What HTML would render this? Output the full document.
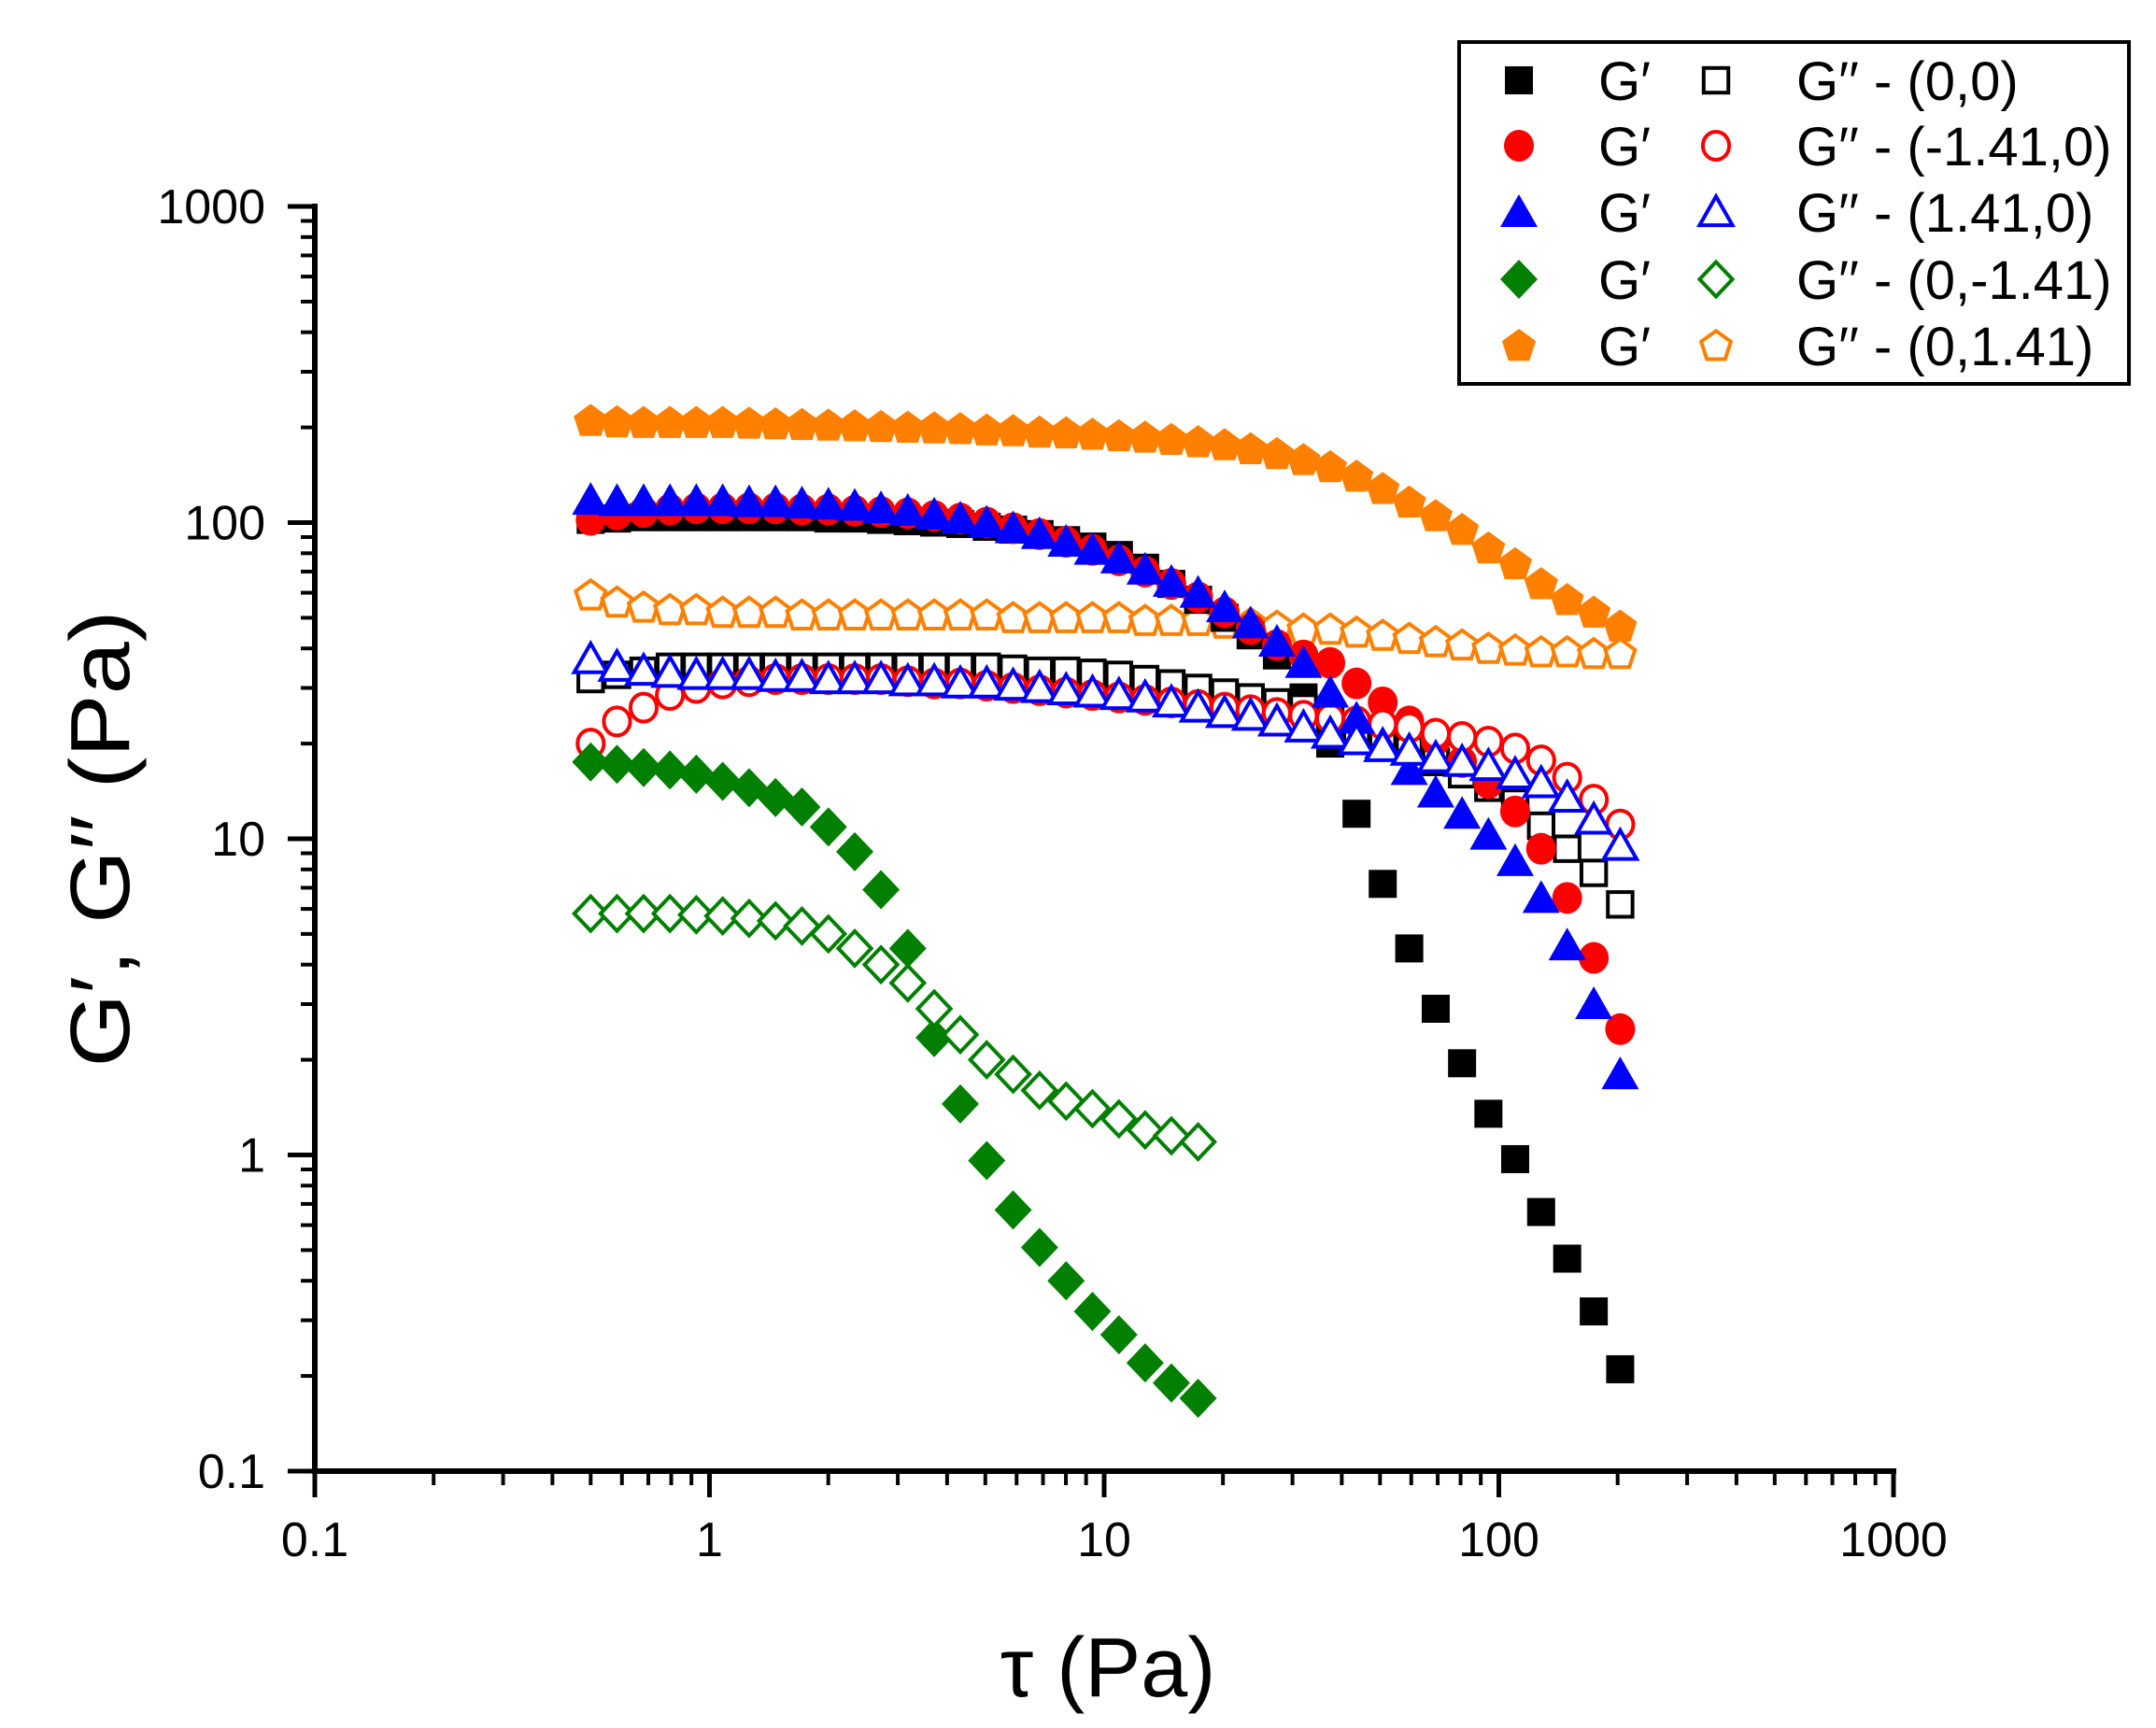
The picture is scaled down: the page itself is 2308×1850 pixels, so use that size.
<!DOCTYPE html>
<html><head><meta charset="utf-8"><style>
html,body{margin:0;padding:0;background:#fff;}
svg{display:block;font-family:"Liberation Sans",Arial,sans-serif;}
</style></head><body>
<svg id="chart" width="2308" height="1850" viewBox="0 0 2308 1850" xmlns="http://www.w3.org/2000/svg">
<g id="axes"></g>
<g id="series"></g>
<text x="1186" y="1816" font-size="90" text-anchor="middle">τ (Pa)</text>
<text transform="translate(138,898) rotate(-90)" font-size="90" text-anchor="middle" textLength="489" lengthAdjust="spacingAndGlyphs">G′, G′′ (Pa)</text>
<g>
<rect x="1562" y="45" width="717" height="366" fill="#fff" stroke="#000" stroke-width="4"/>
<g id="legend-items"></g>
</g>
</svg>
<script>
const stress=[0.500,0.583,0.681,0.794,0.926,1.080,1.260,1.470,1.715,2.001,2.334,2.72,3.18,3.71,4.32,5.04,5.88,6.86,8.01,9.34,10.9,12.7,14.8,17.3,20.2,23.5,27.4,32.0,37.4,43.6,50.8,59.3,69.2,80.7,94.1,110,128,149,174,203];
const g1_00=[102,103,104,104,104,104,104,104,104,103,103,102,101,100,99,97,95,92,88,84,79,72,64,57,50,44,38,28,20,12,7.2,4.5,2.9,1.95,1.35,0.97,0.66,0.47,0.32,0.21];
const g2_00=[32,33,34,35,35,35,35,35,35,35,35,35,35,35,35,35,34.5,34,34,33.5,33,32,31,30,29,28,27,26,24,22,20.5,19,17.5,16,14.5,13,11,9.3,7.8,6.2];
const g1_m141=[102,106,108,110,111,111,111,111,110,110,109,108,107,105,103,100,96,92,87,82,76,70,64,58,52,46,41,38,36,31,27,23.5,20.5,17.5,15,12.2,9.3,6.5,4.2,2.5];
const g2_m141=[20,23.5,26,28.5,30,31,31.5,32,32,32,32,32,31.5,31,31,30.5,30,29.5,29,28.5,28,27.5,27,26.5,26,25.5,25,24.5,24,23.5,23,22.5,21.5,21,20.3,19.3,17.7,15.6,13.3,11.1];
const g1_p141=[118,117,117,117,117,117,116,116,115,114,113,111,109,106,103,100,96,92,87,82,77,71,65,60,54,48,42,36,29,24,20,16.5,14,12,10.3,8.5,6.5,4.6,3.0,1.8];
const g2_p141=[37,35,34,33.5,33,33,33,32.5,32.5,32,32,32,31.5,31.5,31,31,30.5,30,29.5,29,28.5,28,27,26,25,24.5,23.5,22.5,21.5,20.5,19.5,19,18,17.5,17,16,15,13.5,11.5,9.5];
const g1_0m=[17.5,17.2,16.8,16.5,16,15.2,14.5,13.5,12.6,10.9,9.1,6.9,4.5,2.35,1.45,0.96,0.67,0.51,0.40,0.32,0.27,0.22,0.19,0.17];
const g2_0m=[5.8,5.8,5.8,5.8,5.75,5.7,5.6,5.5,5.3,5.0,4.5,4.0,3.5,2.9,2.4,2.0,1.8,1.6,1.48,1.4,1.3,1.2,1.15,1.1];
const g1_0p=[210,208,207,207,207,207,206,205,204,203,202,201,200,199,198,196,195,193,192,190,188,186,183,180,176,171,165,158,150,140,128,116,105,95,83,74,64,57,52,47];
const g2_0p=[59,56,54,53,53,52,52,52,51,51,51,51,51,51,51,51,50,50,50,50,50,49,49,49,48,48,47,46,46,45,44,43,42,41,40,39.5,39,39,38.5,38.5];
const xTicks=["0.1","1","10","100","1000"];
const yTicks=["0.1","1","10","100","1000"];

const NS="http://www.w3.org/2000/svg";
const X=v=>337+422.5*(Math.log10(v)+1);
const Y=v=>221+338.5*(3-Math.log10(v));
function mk(tag,attrs,parent){const e=document.createElementNS(NS,tag);for(const k in attrs)e.setAttribute(k,attrs[k]);parent.appendChild(e);return e;}
const axes=document.getElementById('axes');
let l=mk('line',{x1:337,y1:218,x2:337,y2:1578,stroke:'#000','stroke-width':6},axes);


l=mk('line',{x1:334,y1:1575,x2:2030,y2:1575,stroke:'#000','stroke-width':6},axes);


for(let d=0;d<4;d++){for(let m=2;m<=9;m++){const v=Math.pow(10,d-1)*m;
 let t=mk('line',{x1:X(v),x2:X(v),y1:1575,y2:1590,stroke:'#000','stroke-width':4},axes);
 
 
 t=mk('line',{x1:322,x2:337,y1:Y(v),y2:Y(v),stroke:'#000','stroke-width':4},axes);
 
 }}
xTicks.forEach(s=>{const v=parseFloat(s);
 let t=mk('line',{x1:X(v),x2:X(v),y1:1575,y2:1603,stroke:'#000','stroke-width':5},axes);
 
 
 const tx=mk('text',{x:X(v),y:1666,'font-size':52,'text-anchor':'middle'},axes);tx.textContent=s;
 
 });
yTicks.forEach(s=>{const v=parseFloat(s);
 let t=mk('line',{x1:308,x2:337,y1:Y(v),y2:Y(v),stroke:'#000','stroke-width':5},axes);
 
 
 const tx=mk('text',{x:284,y:Y(v)+18,'font-size':52,'text-anchor':'end'},axes);tx.textContent=s;
 
 });

function marker(shape,cx,cy,color,filled,parent){
 const st=filled?{fill:color,stroke:'none'}:{fill:'#fff',stroke:color,'stroke-width':4};
 const s=filled?1:0.88;let e;
 if(shape==='sq')e=mk('rect',Object.assign({x:cx-15*s,y:cy-15*s,width:30*s,height:30*s},st),parent);
 else if(shape==='ci')e=mk('ellipse',Object.assign({cx:cx,cy:cy,rx:16*s,ry:17*s},st),parent);
 else if(shape==='tr')e=mk('polygon',Object.assign({points:`${cx},${cy-19*s} ${cx+20*s},${cy+16*s} ${cx-20*s},${cy+16*s}`},st),parent);
 else if(shape==='di')e=mk('polygon',Object.assign({points:`${cx},${cy-21*s} ${cx+20*s},${cy} ${cx},${cy+21*s} ${cx-20*s},${cy}`},st),parent);
 else {const p=[];for(let i=0;i<5;i++){const a=-Math.PI/2+i*2*Math.PI/5;p.push((cx+19*s*Math.cos(a)).toFixed(1)+','+(cy+19*s*Math.sin(a)+1).toFixed(1));}
  e=mk('polygon',Object.assign({points:p.join(' ')},st),parent);}
 return e;}
const seriesG=document.getElementById('series');
const series=[
 {d:g1_0p,sh:'pe',c:'#ff8000',f:true,n:'g1-0-1.41'},
 {d:g2_0p,sh:'pe',c:'#ff8000',f:false,n:'g2-0-1.41'},
 {d:g1_00,sh:'sq',c:'#000',f:true,n:'g1-0-0'},
 {d:g2_00,sh:'sq',c:'#000',f:false,n:'g2-0-0'},
 {d:g1_m141,sh:'ci',c:'#ff0000',f:true,n:'g1-m1.41-0'},
 {d:g2_m141,sh:'ci',c:'#ff0000',f:false,n:'g2-m1.41-0'},
 {d:g1_p141,sh:'tr',c:'#0000ff',f:true,n:'g1-1.41-0'},
 {d:g2_p141,sh:'tr',c:'#0000ff',f:false,n:'g2-1.41-0'},
 {d:g1_0m,sh:'di',c:'#007f00',f:true,n:'g1-0-m1.41'},
 {d:g2_0m,sh:'di',c:'#007f00',f:false,n:'g2-0-m1.41'}];
series.forEach(s=>{const g=mk('g',{},seriesG);
 
 
 s.d.forEach((v,i)=>{const m=marker(s.sh,X(stress[i]),Y(v),s.c,s.f,g);
  
  });});

const legend=[['sq','#000','G′′ - (0,0)'],['ci','#ff0000','G′′ - (-1.41,0)'],['tr','#0000ff','G′′ - (1.41,0)'],['di','#007f00','G′′ - (0,-1.41)'],['pe','#ff8000','G′′ - (0,1.41)']];
const rowsY=[86,156,227,299,370];
const lg=document.getElementById('legend-items');
legend.forEach((r,i)=>{const y=rowsY[i];
 let m=marker(r[0],1626,y,r[1],true,lg);
 
 
 let t=mk('text',{x:1711,y:y+21,'font-size':58},lg);t.textContent='G′';
 
 
 m=marker(r[0],1837,y,r[1],false,lg);
 
 
 t=mk('text',{x:1923,y:y+21,'font-size':58},lg);t.textContent=r[2];
 
 });
</script>
</body></html>
